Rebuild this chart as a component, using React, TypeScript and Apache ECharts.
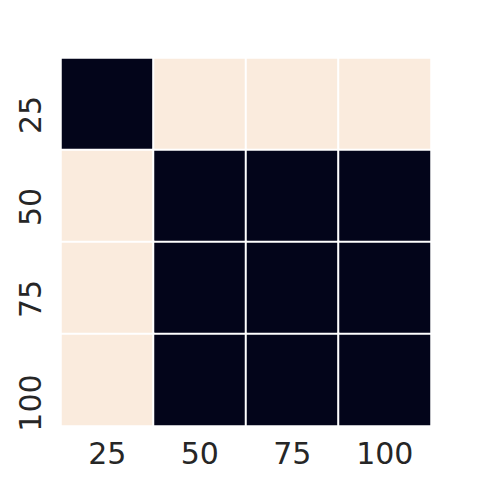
import React, { useEffect, useRef } from "react";
import * as echarts from "echarts";

const xCategories = ["25", "50", "75", "100"];
const yCategories = ["25", "50", "75", "100"];
// rows correspond to yCategories, columns to xCategories
const cellValues: number[][] = [
  [0, 1, 1, 1],
  [1, 0, 0, 0],
  [1, 0, 0, 0],
  [1, 0, 0, 0],
];
const paletteColors = ["#03051A", "#FAEBDD"];

export default function App() {
  const ref = useRef<HTMLDivElement>(null);
  useEffect(() => {
    if (!ref.current) return;
    const chart = echarts.init(ref.current, undefined, { renderer: "svg" });
    const data: [number, number, number][] = [];
    cellValues.forEach((row, yi) =>
      row.forEach((v, xi) => data.push([xi, yi, v]))
    );
    const labelStyle = {
      color: "#262626",
      fontSize: 30,
      fontFamily: "DejaVu Sans",
    };
    chart.setOption({
      animation: false,
      backgroundColor: "#ffffff",
      grid: { left: 61, top: 58, width: 370, height: 368 },
      xAxis: {
        type: "category",
        data: xCategories,
        axisLine: { show: false },
        axisTick: { show: false },
        splitLine: { show: false },
        axisLabel: { ...labelStyle, margin: 12, interval: 0 },
      },
      yAxis: {
        type: "category",
        data: yCategories,
        inverse: true,
        axisLine: { show: false },
        axisTick: { show: false },
        splitLine: { show: false },
        axisLabel: {
          ...labelStyle,
          rotate: 90,
          margin: 16,
          interval: 0,
          hideOverlap: false,
          formatter: (v: string) => (v.length > 2 ? `{b|${v}}` : `{a|${v}}`),
          rich: {
            a: { ...labelStyle, padding: [0, 22, 0, 0] },
            b: { ...labelStyle, padding: [0, 46, 0, 0] },
          },
        },
      },
      visualMap: {
        show: false,
        min: 0,
        max: 1,
        calculable: false,
        inRange: { color: paletteColors },
      },
      series: [
        {
          type: "heatmap",
          data,
          itemStyle: { borderColor: "#ffffff", borderWidth: 2 },
          emphasis: { disabled: true },
        },
      ],
    });
    return () => chart.dispose();
  }, []);
  return (
    <div
      ref={ref}
      style={{ position: "absolute", left: 0, top: 0, width: 480, height: 480 }}
    />
  );
}
